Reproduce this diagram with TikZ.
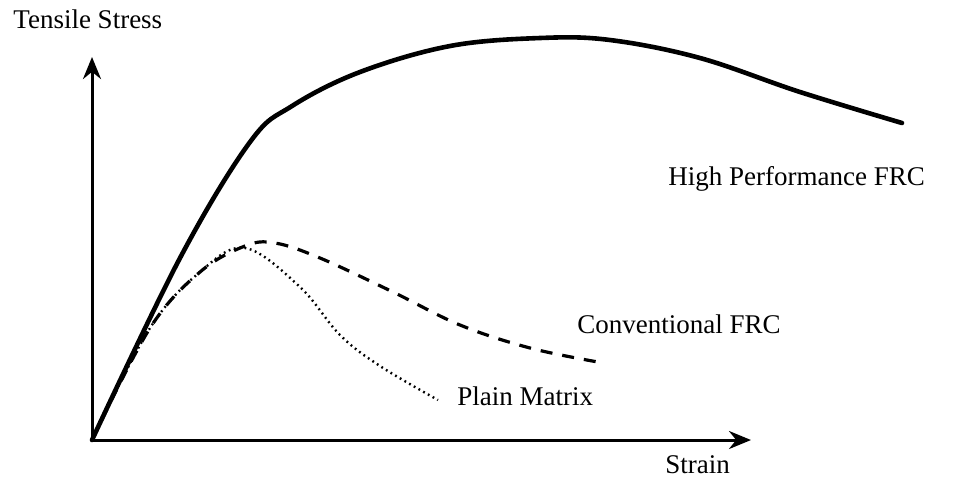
\documentclass[tikz,border=0pt]{standalone}
\usepackage{fontspec}
\setmainfont{Liberation Serif}
\usetikzlibrary{arrows.meta, positioning}
\tikzset{
    axis/.style = {line width=1.5pt, -{Stealth[length=11pt, width=9pt]}},
    hpfrc/.style = {line width=2.3pt, line cap=round},
    confrc/.style = {line width=1.6pt, dash pattern=on 6pt off 5pt},
    plainm/.style = {line width=1.2pt, dash pattern=on 0.9pt off 1.8pt},
    label/.style = {font=\fontsize{13.5}{16}\selectfont, inner sep=0pt, text height=9.5pt, text depth=3pt}
}

\begin{document}
\begin{tikzpicture}[x=0.5pt, y=-0.5pt]
    \useasboundingbox (0,0) rectangle (962,479);
    % Ejes
    \coordinate (o) at (92,440);
    \coordinate (ytop) at (92,57);
    \coordinate (xend) at (751,440);
    \draw [axis] (o) -- (ytop);
    \draw [axis] (o) -- (xend);

    % Etiquetas
    \node (ylab) [label, anchor=west] at (13,22) {Tensile Stress};
    \node (xlab) [label, anchor=west] at (665,467) {Strain};
    \node (hplab) [label, anchor=west] at (668,179) {High Performance FRC};
    \node (cvlab) [label, anchor=west] at (577,327) {Conventional FRC};
    \node (pmlab) [label, anchor=west] at (457,399) {Plain Matrix};

    % Curvas
    \draw [hpfrc] plot[smooth, tension=0.6] coordinates {(o) (180,258) (250,142) (292,106) (360,72) (450,46) (540,38) (610,40) (700,58) (800,92) (902,123)};
    \draw [confrc] plot[smooth, tension=0.6] coordinates {(o) (150,328) (200,272) (245,246) (275,243) (320,258) (393,292) (460,325) (530,348) (598,362)};
    \draw [plainm] plot[smooth, tension=0.6] coordinates {(o) (150,328) (200,272) (245,248) (300,287) (340,335) (380,366) (438,400)};
\end{tikzpicture}
\end{document}
